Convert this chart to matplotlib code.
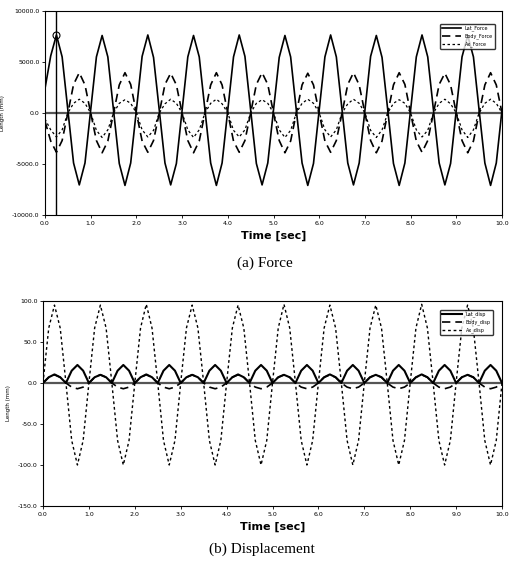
import numpy as np
import matplotlib
matplotlib.use("Agg")
import matplotlib.pyplot as plt

# time axis [sec], step 0.125
time = np.arange(0, 81) * 0.125

force_lat = [2400, 5600, 7650, 5500, 300, -4900, -7050, -4900,
             300, 5500, 7600, 5500, 250, -4950, -7100, -4900,
             300, 5550, 7650, 5450, 300, -4900, -7050, -4950,
             250, 5500, 7600, 5500, 300, -4900, -7100, -4900,
             300, 5500, 7650, 5550, 300, -4950, -7050, -4900,
             300, 5450, 7600, 5500, 250, -4900, -7100, -4950,
             300, 5500, 7650, 5500, 300, -4900, -7050, -4900,
             250, 5550, 7600, 5450, 300, -4950, -7100, -4900,
             300, 5500, 7650, 5500, 300, -4900, -7050, -4950,
             300, 5500, 7600, 5500, 250, -4900, -7100, -4900,
             300]
force_body = [-800, -2750, -3850, -2700, 0, 2800, 3950, 2750,
              0, -2700, -3900, -2750, 0, 2750, 3950, 2800,
              0, -2750, -3850, -2700, 0, 2800, 3900, 2750,
              0, -2700, -3900, -2750, 0, 2750, 3950, 2750,
              0, -2750, -3850, -2700, 0, 2800, 3950, 2800,
              0, -2700, -3900, -2750, 0, 2750, 3900, 2750,
              0, -2750, -3850, -2700, 0, 2800, 3950, 2750,
              0, -2700, -3900, -2750, 0, 2750, 3950, 2800,
              0, -2750, -3850, -2700, 0, 2800, 3900, 2750,
              0, -2700, -3900, -2750, 0, 2750, 3950, 2750,
              0]
force_ax = [-600, -1650, -2350, -1650, 0, 950, 1350, 950,
            0, -1700, -2400, -1650, 0, 950, 1300, 950,
            0, -1650, -2350, -1700, 0, 900, 1350, 950,
            0, -1650, -2400, -1650, 0, 950, 1350, 900,
            0, -1700, -2350, -1650, 0, 950, 1300, 950,
            0, -1650, -2400, -1700, 0, 950, 1350, 950,
            0, -1650, -2350, -1650, 0, 900, 1350, 950,
            0, -1700, -2400, -1650, 0, 950, 1300, 950,
            0, -1650, -2350, -1700, 0, 950, 1350, 900,
            0, -1650, -2400, -1650, 0, 950, 1350, 950,
            0]

disp_lat = [0, 7, 10.5, 7, 0, 15, 22, 15,
            0, 7, 10, 7, 0, 15, 22, 15,
            0, 7, 10.5, 7, 0, 15, 22, 15,
            0, 7, 10, 7, 0, 15, 22, 15,
            0, 7, 10.5, 7, 0, 15, 22, 15,
            0, 7, 10, 7, 0, 15, 22, 15,
            0, 7, 10.5, 7, 0, 15, 22, 15,
            0, 7, 10, 7, 0, 15, 22, 15,
            0, 7, 10.5, 7, 0, 15, 22, 15,
            0, 7, 10, 7, 0, 15, 22, 15,
            0]
disp_body = [0, 7, 10, 7, 0, -5, -7, -5,
             0, 7, 10, 7, 0, -5, -7, -5,
             0, 7, 10, 7, 0, -5, -7, -5,
             0, 7, 10, 7, 0, -5, -7, -5,
             0, 7, 10, 7, 0, -5, -7, -5,
             0, 7, 10, 7, 0, -5, -7, -5,
             0, 7, 10, 7, 0, -5, -7, -5,
             0, 7, 10, 7, 0, -5, -7, -5,
             0, 7, 10, 7, 0, -5, -7, -5,
             0, 7, 10, 7, 0, -5, -7, -5,
             0]
disp_ax = [0, 67, 95, 67, 0, -70, -100, -70,
           0, 67, 95, 67, 0, -70, -100, -70,
           0, 67, 96, 67, 0, -70, -100, -70,
           0, 67, 95, 67, 0, -70, -100, -70,
           0, 67, 95, 67, 0, -70, -100, -70,
           0, 67, 96, 67, 0, -70, -100, -70,
           0, 67, 95, 67, 0, -70, -100, -70,
           0, 67, 95, 67, 0, -70, -100, -70,
           0, 67, 96, 67, 0, -70, -100, -70,
           0, 67, 95, 67, 0, -70, -100, -70,
           0]

force_labels = ["Lat_Force", "Body_Force", "Ax_Force"]
disp_labels = ["Lat_disp", "Body_disp", "Ax_disp"]
force_yticks = [10000, 5000, 0, -5000, -10000]
disp_yticks = [100, 50, 0, -50, -100, -150]
xticks = [0, 1, 2, 3, 4, 5, 6, 7, 8, 9, 10]
cursor_t = 0.25
cursor_val = 7650

W, H = 511, 569
fig = plt.figure(figsize=(W / 100, H / 100), dpi=100)

ax1 = fig.add_axes([45 / W, 1 - 215 / H, (502 - 45) / W, (215 - 11) / H])
ax2 = fig.add_axes([43 / W, 1 - 506 / H, (502 - 43) / W, (506 - 301) / H])

def style(ax, yticks, ylabel):
    ax.set_xlim(0, 10)
    ax.set_ylim(min(yticks), max(yticks))
    ax.set_xticks(xticks)
    ax.set_xticklabels([f"{v:.1f}" for v in xticks], fontsize=4.5)
    ax.set_yticks(yticks)
    ax.set_yticklabels([f"{v:.1f}" for v in yticks], fontsize=4.5)
    ax.tick_params(length=2, width=0.6, pad=2)
    ax.axhline(0, color="#555555", lw=1.6, zorder=1)
    for s in ax.spines.values():
        s.set_linewidth(0.8)
    ax.set_xlabel("Time [sec]", fontsize=8, fontweight="bold", labelpad=4)
    ax.set_ylabel(ylabel, fontsize=4, labelpad=5)

ax1.plot(time, force_lat, color="black", lw=1.2, label=force_labels[0])
ax1.plot(time, force_body, color="black", lw=1.2, dashes=(5, 3), label=force_labels[1])
ax1.plot(time, force_ax, color="black", lw=0.9, dashes=(2, 2), label=force_labels[2])
ax1.axvline(cursor_t, color="black", lw=1.0)
ax1.plot([cursor_t], [cursor_val], marker="o", mfc="none", mec="black", ms=5, mew=0.8)
style(ax1, force_yticks, "Length (mm)")
ax1.legend(loc="upper right", fontsize=3.5, frameon=True, fancybox=True,
           edgecolor="black", handlelength=4, bbox_to_anchor=(0.99, 0.95))

ax2.plot(time, disp_lat, color="black", lw=1.5, label=disp_labels[0])
ax2.plot(time, disp_body, color="black", lw=1.2, dashes=(5, 3), label=disp_labels[1])
ax2.plot(time, disp_ax, color="black", lw=1.0, dashes=(2, 2), label=disp_labels[2])
style(ax2, disp_yticks, "Length (mm)")
ax2.legend(loc="upper right", fontsize=3.5, frameon=True, fancybox=True,
           edgecolor="black", handlelength=4, bbox_to_anchor=(0.985, 0.97))

fig.text(265 / W, 1 - 263 / H, "(a) Force", fontsize=11, family="Liberation Serif",
         ha="center", va="center")
fig.text(262 / W, 1 - 549 / H, "(b) Displacement", fontsize=11, family="Liberation Serif",
         ha="center", va="center")

fig.savefig("out.png", dpi=100)
